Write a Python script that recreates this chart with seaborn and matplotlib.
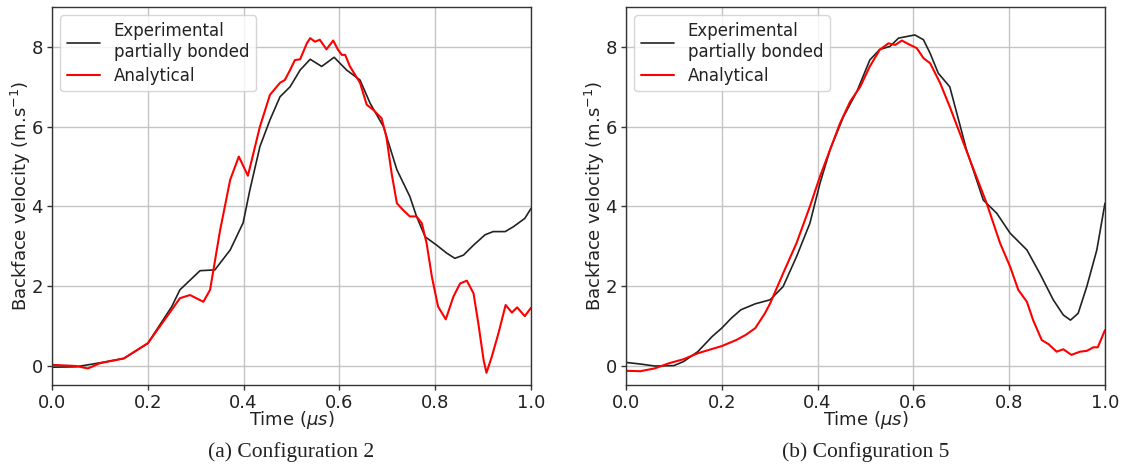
import numpy as np
import pandas as pd
import matplotlib
matplotlib.use("Agg")
import matplotlib.pyplot as plt
import seaborn as sns

# ---- Configuration 2 ----
t_exp_a = [0.0, 0.05, 0.1, 0.15, 0.2, 0.25, 0.267, 0.309, 0.34, 0.372, 0.399, 0.413, 0.434, 0.455,
           0.476, 0.497, 0.518, 0.539, 0.563, 0.589, 0.615, 0.643, 0.664, 0.692, 0.72, 0.747,
           0.761, 0.779, 0.803, 0.824, 0.841, 0.859, 0.88, 0.904, 0.921, 0.946, 0.963, 0.987, 1.0]
v_exp_a = [-0.03, -0.02, 0.08, 0.19, 0.57, 1.49, 1.91, 2.39, 2.41, 2.91, 3.59, 4.41, 5.5, 6.17,
           6.75, 7.0, 7.42, 7.69, 7.51, 7.74, 7.42, 7.17, 6.59, 6.0, 4.92, 4.25,
           3.75, 3.24, 3.03, 2.83, 2.70, 2.78, 3.03, 3.29, 3.37, 3.37, 3.49, 3.70, 3.95]
t_ana_a = [0.0, 0.05, 0.075, 0.1, 0.15, 0.2, 0.25, 0.267, 0.288, 0.316, 0.33, 0.351, 0.372, 0.39,
           0.409, 0.434, 0.455, 0.476, 0.486, 0.497, 0.507, 0.518, 0.532, 0.539, 0.549, 0.559,
           0.573, 0.587, 0.597, 0.605, 0.612, 0.622, 0.643, 0.657, 0.671, 0.688, 0.698, 0.709,
           0.72, 0.733, 0.747, 0.761, 0.772, 0.782, 0.793, 0.806, 0.822, 0.838, 0.852, 0.866,
           0.88, 0.89, 0.901, 0.907, 0.918, 0.932, 0.947, 0.96, 0.971, 0.987, 1.0]
v_ana_a = [0.03, 0.0, -0.06, 0.07, 0.19, 0.57, 1.41, 1.70, 1.78, 1.61, 1.91, 3.41, 4.67, 5.25,
           4.77, 6.0, 6.8, 7.1, 7.17, 7.42, 7.67, 7.69, 8.09, 8.22, 8.13, 8.18,
           7.94, 8.16, 7.93, 7.8, 7.8, 7.51, 7.1, 6.55, 6.42, 6.21, 5.75, 4.83,
           4.08, 3.91, 3.75, 3.75, 3.58, 3.08, 2.24, 1.49, 1.17, 1.74, 2.07, 2.14,
           1.82, 1.07, 0.15, -0.17, 0.23, 0.82, 1.53, 1.34, 1.47, 1.25, 1.46]

# ---- Configuration 5 ----
t_exp_b = [0.0, 0.03, 0.06, 0.1, 0.12, 0.15, 0.18, 0.2, 0.22, 0.24, 0.27, 0.301, 0.328, 0.356,
           0.384, 0.405, 0.426, 0.454, 0.482, 0.509, 0.53, 0.551, 0.569, 0.586, 0.603, 0.621,
           0.635, 0.652, 0.676, 0.711, 0.746, 0.774, 0.802, 0.837, 0.864, 0.892, 0.913, 0.928,
           0.944, 0.962, 0.983, 1.0]
v_exp_b = [0.09, 0.05, 0.0, 0.01, 0.11, 0.36, 0.74, 0.95, 1.2, 1.41, 1.56, 1.66, 1.99, 2.74,
           3.58, 4.58, 5.42, 6.25, 6.88, 7.67, 7.94, 8.01, 8.22, 8.26, 8.30, 8.18,
           7.84, 7.34, 7.0, 5.42, 4.16, 3.83, 3.33, 2.91, 2.32, 1.66, 1.28, 1.15,
           1.32, 1.99, 2.91, 4.08]
t_ana_b = [0.0, 0.03, 0.06, 0.09, 0.12, 0.15, 0.2, 0.23, 0.25, 0.27, 0.29, 0.301, 0.328, 0.356,
           0.384, 0.405, 0.426, 0.447, 0.468, 0.489, 0.509, 0.53, 0.548, 0.562, 0.576, 0.593,
           0.607, 0.621, 0.635, 0.656, 0.676, 0.718, 0.753, 0.781, 0.802, 0.819, 0.837, 0.85,
           0.868, 0.882, 0.899, 0.913, 0.93, 0.948, 0.962, 0.976, 0.985, 1.0]
v_ana_b = [-0.12, -0.13, -0.06, 0.07, 0.17, 0.32, 0.50, 0.65, 0.78, 0.95, 1.32, 1.57, 2.32, 3.08,
           4.0, 4.75, 5.42, 6.09, 6.63, 7.0, 7.51, 7.93, 8.09, 8.05, 8.16, 8.05,
           7.97, 7.72, 7.59, 7.09, 6.5, 5.17, 4.08, 3.08, 2.49, 1.91, 1.61, 1.15,
           0.65, 0.55, 0.36, 0.42, 0.28, 0.36, 0.38, 0.47, 0.47, 0.90]

captions = ["(a) Configuration 2", "(b) Configuration 5"]
labels = ["Experimental\npartially bonded", "Analytical"]
xticks = [0.0, 0.2, 0.4, 0.6, 0.8, 1.0]
yticks = [0, 2, 4, 6, 8]

sns.set_theme(style="whitegrid")
plt.rcParams.update({
    "font.family": ["DejaVu Sans"],
    "axes.edgecolor": "#333333",
    "grid.color": "#c4c4c4",
    "grid.linewidth": 1.0,
    "xtick.bottom": True, "ytick.left": True,
    "xtick.color": "#222222", "ytick.color": "#222222",
    "axes.labelcolor": "#222222", "text.color": "#222222",
})

fig = plt.figure(figsize=(11.21, 4.68), dpi=100)
ax1 = fig.add_axes([0.0464, 0.177, 0.4273, 0.808])
ax2 = fig.add_axes([0.5584, 0.177, 0.4273, 0.808])

datasets = [(ax1, t_exp_a, v_exp_a, t_ana_a, v_ana_a), (ax2, t_exp_b, v_exp_b, t_ana_b, v_ana_b)]
for (ax, te, ve, ta, va), cap in zip(datasets, captions):
    df_e = pd.DataFrame({"t": te, "v": ve})
    df_a = pd.DataFrame({"t": ta, "v": va})
    sns.lineplot(data=df_e, x="t", y="v", ax=ax, color="#222222", lw=1.2, label=labels[0])
    sns.lineplot(data=df_a, x="t", y="v", ax=ax, color="red", lw=1.5, label=labels[1])
    ax.set_xlim(0, 1.0)
    ax.set_ylim(-0.48, 9.0)
    ax.set_xticks(xticks)
    ax.set_xticklabels([f"{x:.1f}" for x in xticks])
    ax.set_yticks(yticks)
    ax.tick_params(labelsize=13, length=3.5, width=1, color="#333333", pad=3)
    ax.set_xlabel(r"Time ($\mu s$)", fontsize=13, labelpad=-2)
    ax.set_ylabel(r"Backface velocity (m.s$^{-1}$)", fontsize=13, labelpad=-1)
    for s in ax.spines.values():
        s.set_linewidth(1.0)
    leg = ax.legend(loc="upper left", fontsize=12, frameon=True, handlelength=2.0,
                    borderpad=0.4, labelspacing=0.35, fancybox=True)
    leg.get_frame().set_edgecolor("#cccccc")
    ax.text(0.5, -0.177, cap, transform=ax.transAxes, ha="center", va="center",
            fontsize=15.5, family="Liberation Serif")

fig.savefig("out.png", dpi=100)
